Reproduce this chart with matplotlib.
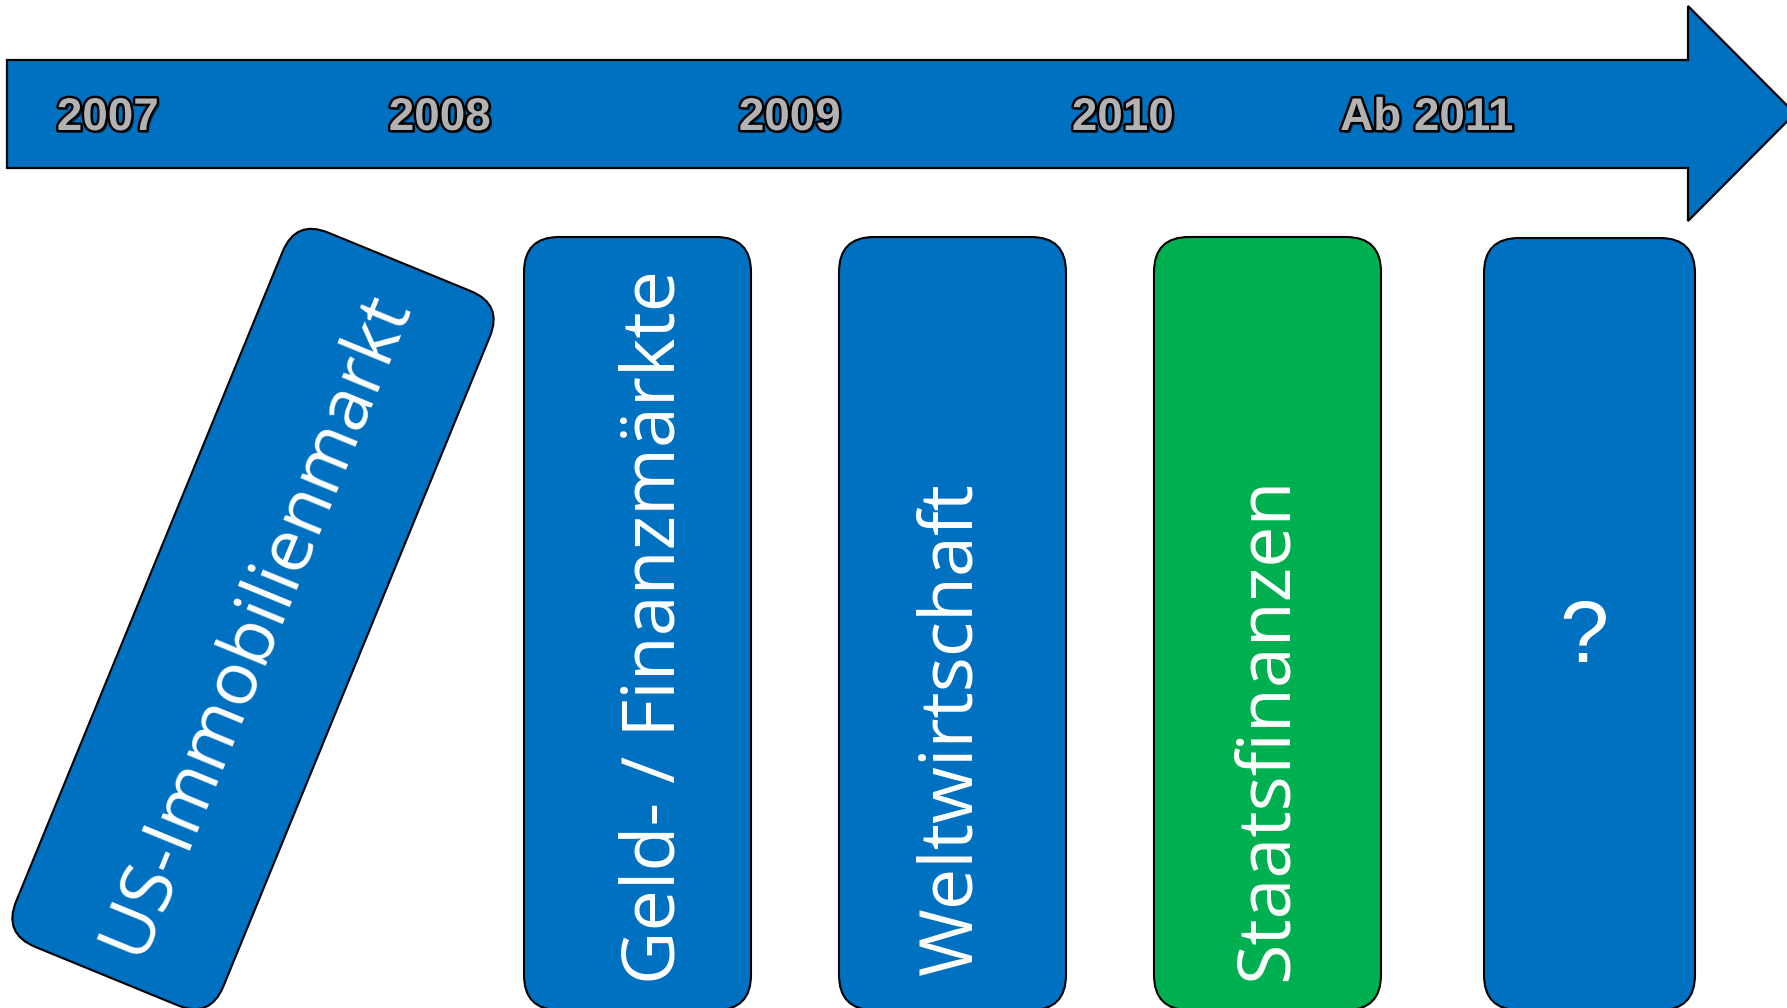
import matplotlib
matplotlib.use("Agg")
import matplotlib.pyplot as plt
import matplotlib.patheffects as pe
from matplotlib.patches import FancyBboxPatch, Polygon
from matplotlib.transforms import Affine2D

# Zeitstrahl der Krise: 2007 -> ab 2011
W, H = 1787, 1008

years = ["2007", "2008", "2009", "2010", "Ab 2011"]
year_x = [108, 440, 790, 1123, 1427]
year_y = 118

phases = ["US-Immobilienmarkt", "Geld- / Finanzmärkte", "Weltwirtschaft", "Staatsfinanzen", "?"]
phase_colors = ["#0070C0", "#0070C0", "#0070C0", "#00B050", "#0070C0"]

# Kästen (Pixel), Kasten 1 wird danach um seinen Mittelpunkt gedreht
box_left = [141, 524, 839, 1154, 1484]
box_right = [365, 751, 1066, 1381, 1695]
box_top = [233, 237, 237, 237, 238]
box_bottom = [1005, 1010, 1010, 1010, 1010]
box_angle = [22.3, 0, 0, 0, 0]

text_dx = [3, 18, 0, 0, -6]
text_y = [624, 627, 729, 729, 640]
text_rot = [67.7, 90, 90, 90, 0]
text_len = [724, 718, 479, 506]   # sichtbare Textlänge im Bild

BLUE = "#0070C0"

fig = plt.figure(figsize=(W / 100, H / 100), dpi=100)
ax = fig.add_axes([0, 0, 1, 1])
ax.set_xlim(0, W)
ax.set_ylim(H, 0)
ax.axis("off")

# Pfeil
arrow = Polygon([(7, 60), (1688, 60), (1688, 6), (1795, 113.5),
                 (1688, 221), (1688, 168), (7, 168)],
                closed=True, facecolor=BLUE, edgecolor="black", lw=1.6, zorder=1)
ax.add_patch(arrow)

year_fx = [pe.SimplePatchShadow(offset=(2, -2), shadow_rgbFace="black", alpha=0.45),
           pe.Stroke(linewidth=3.5, foreground="black"), pe.Normal()]
for x, s in zip(year_x, years):
    ax.text(x, year_y, s, fontsize=33, family="Liberation Sans", fontweight="bold",
            color="#B2B2B2", ha="center", va="center", path_effects=year_fx, zorder=3)

# Schriftgröße so wählen, dass die Textlänge passt
fig.canvas.draw()
rend = fig.canvas.get_renderer()
sizes = []
for s, L in zip(phases[:4], text_len):
    t = ax.text(0, 0, s, fontsize=100, family="Open Sans")
    w = t.get_window_extent(renderer=rend).width
    t.remove()
    sizes.append(100 * L / w)
fsize = sum(sizes) / len(sizes)

for i in range(len(phases)):
    l, r, t, b = box_left[i], box_right[i], box_top[i], box_bottom[i]
    cx, cy = (l + r) / 2, (t + b) / 2
    box = FancyBboxPatch((l, t), r - l, b - t,
                         boxstyle="round,pad=0,rounding_size=35",
                         facecolor=phase_colors[i], edgecolor="black", lw=1.5, zorder=2)
    if box_angle[i]:
        box.set_transform(Affine2D().rotate_deg_around(cx, cy, box_angle[i]) + ax.transData)
    ax.add_patch(box)
    if phases[i] == "?":
        fam, size = "Liberation Sans", fsize * 1.2
    else:
        fam, size = "Open Sans", fsize
    ax.text(cx + text_dx[i], text_y[i], phases[i], fontsize=size, family=fam, color="white",
            rotation=text_rot[i], rotation_mode="anchor", ha="center", va="center", zorder=4)

fig.savefig("out.png", dpi=100)
